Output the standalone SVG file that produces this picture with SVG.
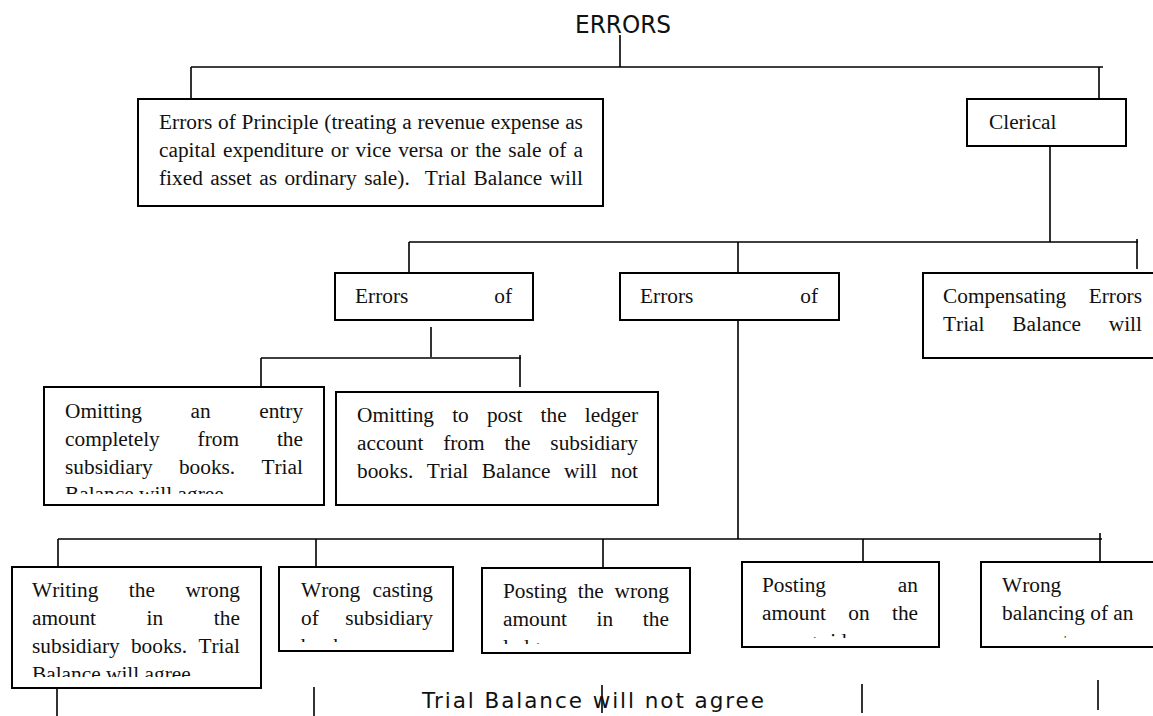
<svg xmlns="http://www.w3.org/2000/svg" width="1153" height="716" viewBox="0 0 1153 716">
  <style>
    .box{fill:#fff;stroke:#000;stroke-width:2}
    .ln{fill:none;stroke:#000;stroke-width:1.6}
    .t{font-family:"Liberation Serif","Times New Roman",serif;font-size:21.33px;fill:#111;font-kerning:none}
    .h{font-family:"DejaVu Sans","Liberation Sans",sans-serif;fill:#111}
  </style>
  <defs>
    <clipPath id="c-om1"><rect x="44" y="387" width="280" height="107"/></clipPath>
    <clipPath id="c-wr"><rect x="12" y="567" width="249" height="110"/></clipPath>
    <clipPath id="c-wc"><rect x="279" y="567" width="174" height="75"/></clipPath>
    <clipPath id="c-pw"><rect x="482" y="568" width="208" height="76"/></clipPath>
    <clipPath id="c-pa"><rect x="742" y="562" width="197" height="76"/></clipPath>
    <clipPath id="c-wb"><rect x="981" y="562" width="172" height="75.5"/></clipPath>
  </defs>

  <!-- tree connectors -->
  <g id="connectors">
    <path class="ln" d="M620 35V67 M191 67H1103 M191 67V99 M1099 67V99
      M1050 146V242 M409 242H1138 M1137 239V269 M409 242V273 M738 242V273
      M431 327V357 M261 358H521 M261 358V387 M520 355V387
      M738 320V539 M58 539H1102 M58 539V567 M316 539V567 M603 539V568 M863 539V562 M1100 533V562
      M57 687V716 M314 687V716 M602 685V713 M862 684V713 M1098 680V710"/>
  </g>

  <g id="n-errors">
    <text class="h" x="575" y="33" font-size="24" textLength="96" lengthAdjust="spacingAndGlyphs">ERRORS</text>
  </g>

  <g id="n-principle">
    <rect class="box" x="138" y="99" width="465" height="107"/>
    <text class="t" x="159" y="129" style="word-spacing:0.41px">Errors of Principle (treating a revenue expense as</text>
    <text class="t" x="159" y="157" style="word-spacing:1.77px">capital expenditure or vice versa or the sale of a</text>
    <text class="t" x="159" y="185" xml:space="preserve" style="word-spacing:2.13px">fixed asset as ordinary sale).  Trial Balance will</text>
  </g>

  <g id="n-clerical">
    <rect class="box" x="967" y="99" width="159" height="47"/>
    <text class="t" x="989" y="129">Clerical</text>
  </g>

  <g id="n-errors-of-1">
    <rect class="box" x="335" y="273" width="198" height="47"/>
    <text class="t" x="355" y="303" style="word-spacing:80.6px">Errors of</text>
  </g>

  <g id="n-errors-of-2">
    <rect class="box" x="620" y="273" width="219" height="47"/>
    <text class="t" x="640" y="303" style="word-spacing:101.6px">Errors of</text>
  </g>

  <g id="n-compensating">
    <rect class="box" x="923" y="273" width="240" height="85"/>
    <text class="t" x="943" y="303" style="word-spacing:17.1px">Compensating Errors</text>
    <text class="t" x="943" y="331" style="word-spacing:22.5px">Trial Balance will</text>
  </g>

  <g id="n-omit-entry">
    <rect class="box" x="44" y="387" width="280" height="118"/>
    <g clip-path="url(#c-om1)">
      <text class="t" x="65" y="418" style="word-spacing:43.2px">Omitting an entry</text>
      <text class="t" x="65" y="446" style="word-spacing:32.5px">completely from the</text>
      <text class="t" x="65" y="474" style="word-spacing:20.9px">subsidiary books. Trial</text>
      <text class="t" x="65" y="501">Balance will agree</text>
    </g>
  </g>

  <g id="n-omit-post">
    <rect class="box" x="336" y="392" width="322" height="113"/>
    <text class="t" x="357" y="422" style="word-spacing:12.8px">Omitting to post the ledger</text>
    <text class="t" x="357" y="450" style="word-spacing:14.5px">account from the subsidiary</text>
    <text class="t" x="357" y="478" style="word-spacing:8.2px">books. Trial Balance will not</text>
  </g>

  <g id="n-writing">
    <rect class="box" x="12" y="567" width="249" height="121"/>
    <g clip-path="url(#c-wr)">
      <text class="t" x="32" y="597" style="word-spacing:25.2px">Writing the wrong</text>
      <text class="t" x="32" y="625" style="word-spacing:45.3px">amount in the</text>
      <text class="t" x="32" y="653" style="word-spacing:5.9px">subsidiary books. Trial</text>
      <text class="t" x="32" y="681">Balance will agree</text>
    </g>
  </g>

  <g id="n-casting">
    <rect class="box" x="279" y="567" width="174" height="84"/>
    <g clip-path="url(#c-wc)">
      <text class="t" x="301" y="597" style="word-spacing:7px">Wrong casting</text>
      <text class="t" x="301" y="625" style="word-spacing:21.2px">of subsidiary</text>
      <text class="t" x="301" y="653">books.</text>
    </g>
  </g>

  <g id="n-posting-wrong">
    <rect class="box" x="482" y="568" width="208" height="85"/>
    <g clip-path="url(#c-pw)">
      <text class="t" x="503" y="598" style="word-spacing:5.4px">Posting the wrong</text>
      <text class="t" x="503" y="626" style="word-spacing:24.3px">amount in the</text>
      <text class="t" x="503" y="654">ledger</text>
    </g>
  </g>

  <g id="n-posting-side">
    <rect class="box" x="742" y="562" width="197" height="85"/>
    <g clip-path="url(#c-pa)">
      <text class="t" x="762" y="592" style="word-spacing:66.5px">Posting an</text>
      <text class="t" x="762" y="620" style="word-spacing:17px">amount on the</text>
      <text class="t" x="762" y="648">wrong side</text>
    </g>
  </g>

  <g id="n-balancing">
    <rect class="box" x="981" y="562" width="182" height="85"/>
    <g clip-path="url(#c-wb)">
      <text class="t" x="1002" y="592">Wrong</text>
      <text class="t" x="1002" y="620">balancing of an</text>
      <text class="t" x="1002" y="648">account</text>
    </g>
  </g>

  <g id="n-tb-not-agree">
    <text class="h" x="422" y="708" font-size="21.5" textLength="342" lengthAdjust="spacing">Trial Balance will not agree</text>
  </g>
</svg>
